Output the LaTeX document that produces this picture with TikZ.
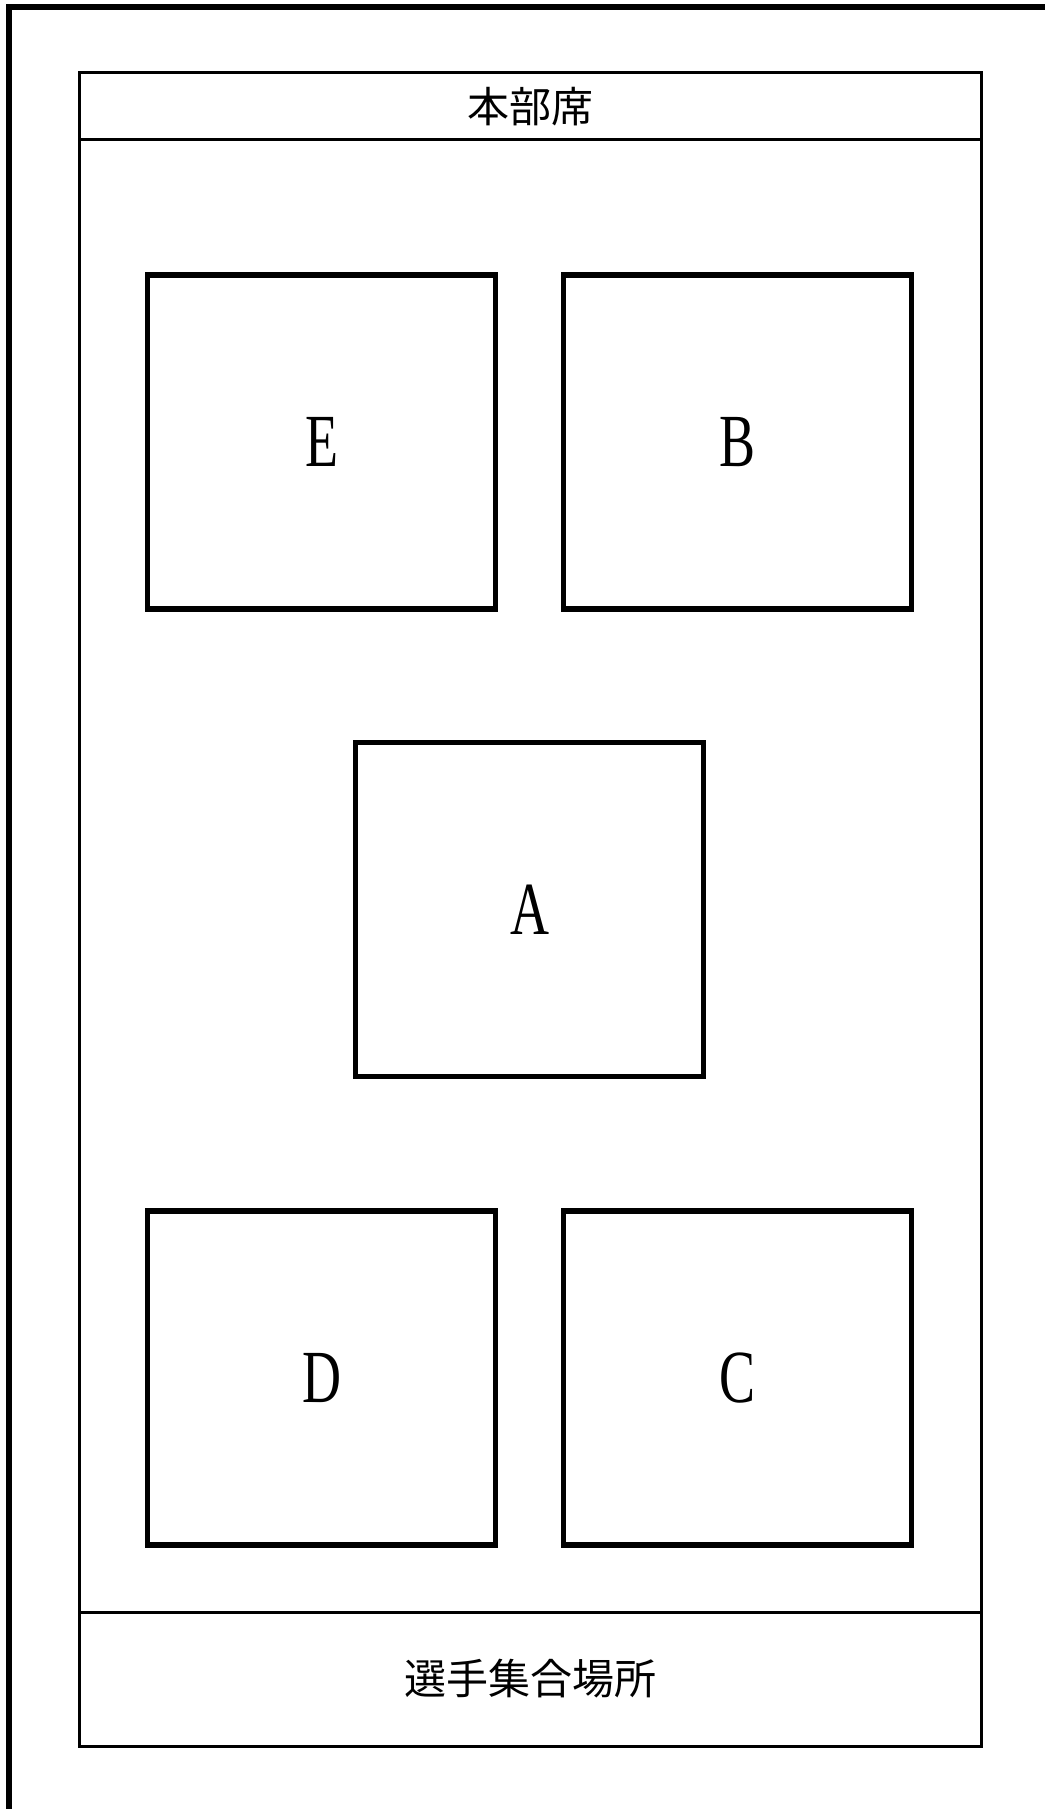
\documentclass[tikz,border=0pt]{standalone}
\usepackage{fontspec}
\setmainfont{Liberation Serif}
\newfontfamily\jpfont{Noto Sans CJK JP}
\usepackage{tikz}
\usetikzlibrary{positioning}

\begin{document}
\begin{tikzpicture}[
  x=1pt, y=-1pt,
  zone/.style={draw, line width=3pt, outer sep=0pt, minimum width=902pt, inner sep=0pt, font=\jpfont\fontsize{42}{42}\selectfont},
  court/.style={draw, line width=5.5pt, minimum width=348pt, minimum height=334pt, inner sep=0pt, font=\fontsize{75}{75}\selectfont}
]
  \useasboundingbox (0,0) rectangle (1045,1809);
  \draw[line width=6pt] (9,1809) -- (9,7) -- (1045,7);

  \node[zone, minimum height=67pt] (honbu) at (530,106.5) {本部席};
  \node[zone, minimum height=1472pt, below=0pt of honbu] (field) {};
  \node[zone, minimum height=134pt, below=0pt of field] (shugo) {選手集合場所};

  \node[court] (A) at (529.5,909.5) {\scalebox{0.72}[1]{A}};
  \node[court] (E) at (321.5,442) {\scalebox{0.72}[1]{E}};
  \node[court] (B) at (737.5,442) {\scalebox{0.72}[1]{B}};
  \node[court] (D) at (321.5,1378) {\scalebox{0.72}[1]{D}};
  \node[court] (C) at (737.5,1378) {\scalebox{0.72}[1]{C}};
\end{tikzpicture}
\end{document}
